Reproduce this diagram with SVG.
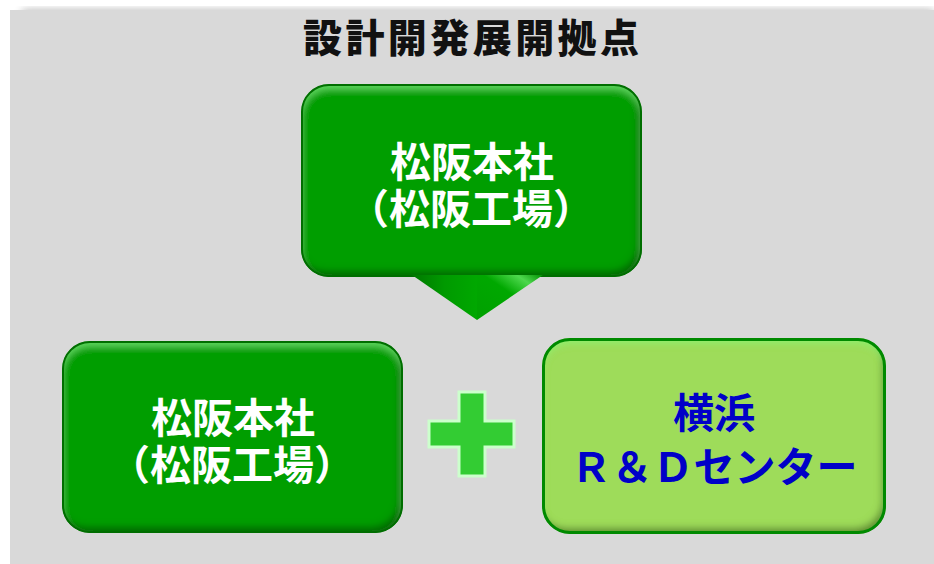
<svg xmlns="http://www.w3.org/2000/svg" width="934" height="564" viewBox="0 0 934 564">
<defs>
<style>
.jp{font-family:"Noto Sans CJK JP","Noto Sans CJK SC",sans-serif;font-weight:700;text-anchor:middle}
.wt{fill:#ffffff;font-size:41px}
.bt{fill:#0000C8;font-size:41px}
.ttl{fill:#111111;font-size:39px;font-weight:900}
.dk{fill:#009E00}
.lt{fill:#9EDC5A}
.dkb{fill:none;stroke:#006E00;stroke-width:2}
.ltb{fill:none;stroke:#008A00;stroke-width:3}
</style>
<filter id="shadow" x="-5%" y="-50%" width="110%" height="200%">
<feGaussianBlur stdDeviation="4"/>
</filter>
<filter id="bev" x="-5%" y="-5%" width="110%" height="110%">
<feGaussianBlur in="SourceAlpha" stdDeviation="3.5" result="b"/>
<feOffset in="b" dx="0" dy="5" result="bt"/>
<feComposite in="SourceAlpha" in2="bt" operator="out" result="topE"/>
<feGaussianBlur in="topE" stdDeviation="1" result="topE2"/>
<feOffset in="b" dx="-4" dy="-6" result="bb"/>
<feComposite in="SourceAlpha" in2="bb" operator="out" result="botE"/>
<feFlood flood-color="#7CFF7C" flood-opacity="0.55"/>
<feComposite in2="topE2" operator="in" result="hl"/>
<feFlood flood-color="#003300" flood-opacity="0.65"/>
<feComposite in2="botE" operator="in" result="sh"/>
<feMerge><feMergeNode in="SourceGraphic"/><feMergeNode in="sh"/><feMergeNode in="hl"/></feMerge>
<feComposite in2="SourceAlpha" operator="in"/>
</filter>
<linearGradient id="triL" x1="0" y1="0" x2="1" y2="0">
<stop offset="0" stop-color="#007800"/>
<stop offset="0.5" stop-color="#009A00"/>
<stop offset="1" stop-color="#00A800"/>
</linearGradient>
<linearGradient id="triR" x1="0" y1="1" x2="1" y2="0">
<stop offset="0" stop-color="#00A000"/>
<stop offset="0.55" stop-color="#00A800"/>
<stop offset="0.8" stop-color="#4ED84E"/>
<stop offset="1" stop-color="#009000"/>
</linearGradient>
</defs>

<g id="background">
<rect x="22" y="10" width="912" height="8" fill="#000" opacity="0.3" filter="url(#shadow)"/>
<rect x="10" y="10" width="924" height="554" fill="#D9D9D9"/>
</g>

<g id="title">
<text class="jp ttl" x="471" y="52" textLength="336" lengthAdjust="spacing">設計開発展開拠点</text>
</g>

<g id="node-top">
<rect class="dk" x="301" y="84" width="341" height="193" rx="28" filter="url(#bev)"/>
<rect class="dkb" x="302" y="85" width="339" height="191" rx="27"/>
<polygon points="412,275 477,275 477,320" fill="url(#triL)"/>
<polygon points="477,275 543,275 477,320" fill="url(#triR)"/>
<text class="jp wt"><tspan x="472" y="177">松阪本社</tspan><tspan x="471" y="224">（松阪工場）</tspan></text>
</g>

<g id="node-left">
<rect class="dk" x="62" y="341" width="341" height="192" rx="28" filter="url(#bev)"/>
<rect class="dkb" x="63" y="342" width="339" height="190" rx="27"/>
<text class="jp wt"><tspan x="233" y="433">松阪本社</tspan><tspan x="232" y="480">（松阪工場）</tspan></text>
</g>

<g id="node-right">
<rect class="lt" x="542" y="338" width="344" height="196" rx="28" filter="url(#bev)"/>
<rect class="ltb" x="543.5" y="339.5" width="341" height="193" rx="26.5"/>
<text class="jp bt"><tspan x="714" y="428">横浜</tspan><tspan x="714" y="482">Ｒ＆Ｄセンター</tspan></text>
</g>

<g id="connectors">
<polygon points="459,392 485,392 485,421 514,421 514,447 485,447 485,476 459,476 459,447 429,447 429,421 459,421" fill="#33CC33" stroke="#CCFFCC" stroke-width="3" stroke-linejoin="miter"/>
</g>
</svg>
